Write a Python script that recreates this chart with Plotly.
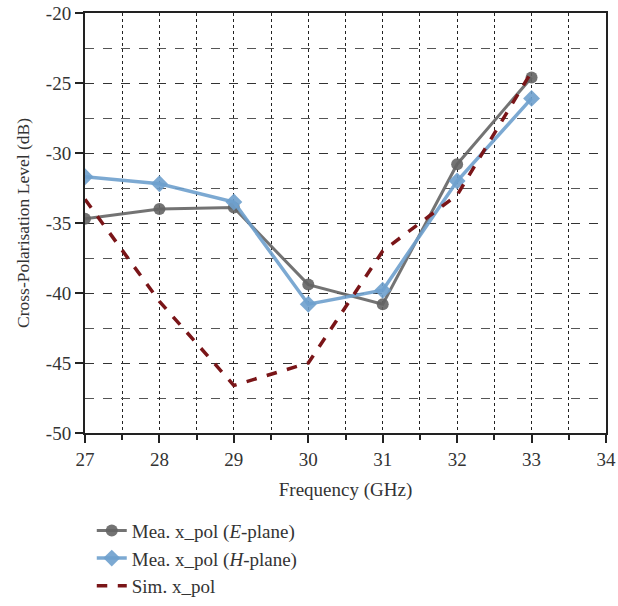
import plotly.graph_objects as go

freq = [27, 28, 29, 30, 31, 32, 33]
e_plane = [-34.7, -34.0, -33.9, -39.4, -40.8, -30.8, -24.6]
h_plane = [-31.7, -32.2, -33.5, -40.8, -39.8, -32.0, -26.1]
sim = [-33.3, -40.6, -46.6, -45.0, -37.0, -33.0, -24.2]

x_ticks = [27, 28, 29, 30, 31, 32, 33, 34]
y_ticks = [-50, -45, -40, -35, -30, -25, -20]
y_ticktext = ["-50", "-45", "-40", "-35", "-30", "-25", "-20"]

font_family = "Liberation Serif"

fig = go.Figure()
fig.add_trace(go.Scatter(
    x=freq, y=e_plane, mode="lines+markers",
    name="Mea. x_pol (<i>E</i>-plane)",
    line=dict(color="rgba(100,100,100,0.9)", width=3),
    marker=dict(symbol="circle", size=12, color="rgba(100,100,100,0.9)"),
))
fig.add_trace(go.Scatter(
    x=freq, y=h_plane, mode="lines+markers",
    name="Mea. x_pol (<i>H</i>-plane)",
    line=dict(color="rgba(110,160,205,0.9)", width=3.5),
    marker=dict(symbol="diamond", size=13, color="rgba(110,160,205,0.9)"),
))
fig.add_trace(go.Scatter(
    x=freq, y=sim, mode="lines",
    name="Sim. x_pol",
    line=dict(color="#7a1518", width=3.5, dash="dash"),
))

fig.update_layout(
    width=618, height=606,
    margin=dict(l=85, r=12, t=13, b=173, autoexpand=False),
    paper_bgcolor="white", plot_bgcolor="white",
    font=dict(family=font_family, size=19, color="#333333"),
    showlegend=True,
    legend=dict(
        x=0.013, y=-0.187, xanchor="left", yanchor="top",
        font=dict(family=font_family, size=19, color="#333333"),
        bgcolor="rgba(0,0,0,0)", tracegroupgap=0,
    ),
)
fig.update_xaxes(
    range=[27, 34], tickvals=x_ticks,
    showline=True, linecolor="#222222", linewidth=2, mirror=True,
    ticks="outside", ticklen=8, tickwidth=1.5, tickcolor="#222222",
    showgrid=True, gridcolor="#222222", gridwidth=1, griddash="dot",
    zeroline=False, automargin=False,
    minor=dict(dtick=0.5, ticks="outside", ticklen=5, tickcolor="#222222",
               showgrid=True, gridcolor="#222222", gridwidth=1, griddash="dot"),
    title=dict(text="Frequency (GHz)", font=dict(family=font_family, size=19), standoff=14),
    tickfont=dict(family=font_family, size=19, color="#333333"),
)
fig.update_yaxes(
    range=[-50, -20], tickvals=y_ticks, ticktext=y_ticktext,
    showline=True, linecolor="#222222", linewidth=2, mirror=True,
    ticks="outside", ticklen=8, tickwidth=1.5, tickcolor="#222222",
    showgrid=True, gridcolor="#333333", gridwidth=1, griddash="dash",
    zeroline=False, automargin=False,
    minor=dict(dtick=2.5, ticks="", showgrid=True, gridcolor="#555555",
               gridwidth=1, griddash="dash"),
    title=dict(text="Cross-Polarisation Level (dB)", font=dict(family=font_family, size=17.5), standoff=12),
    tickfont=dict(family=font_family, size=19, color="#333333"),
)

fig.write_html("out.html")
